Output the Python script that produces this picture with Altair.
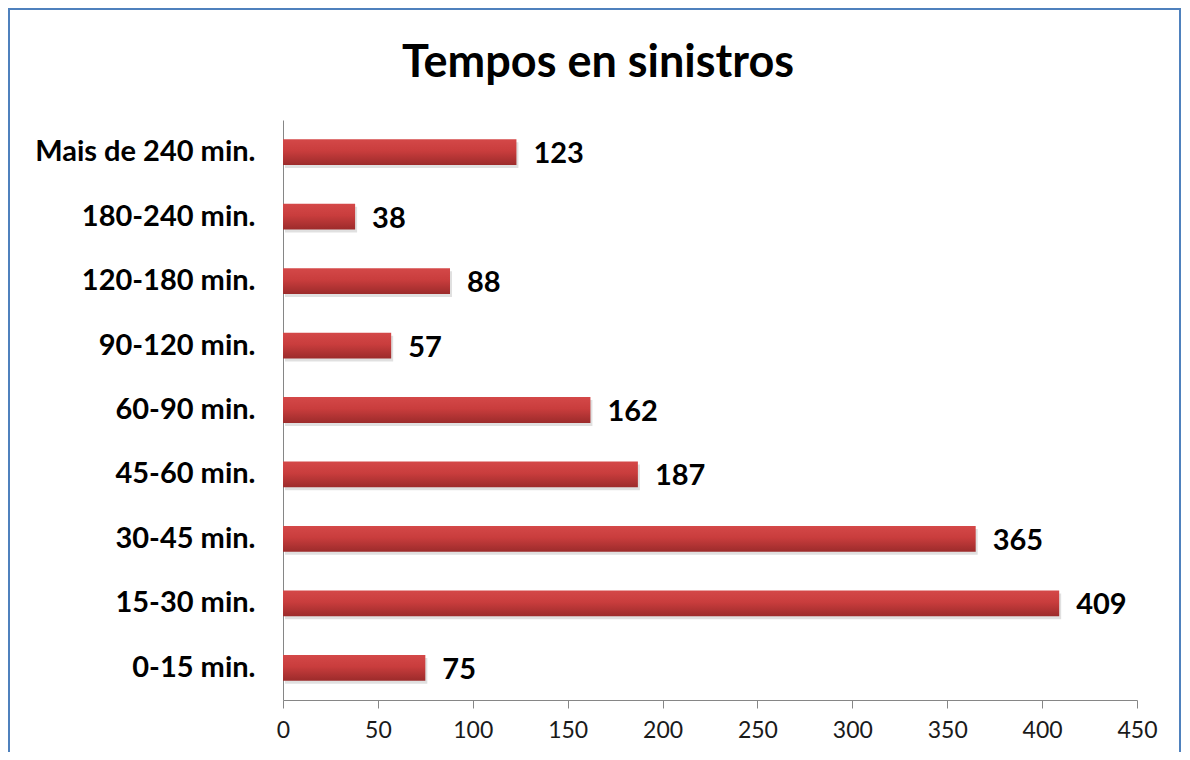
import altair as alt
import pandas as pd

categories = ["Mais de 240 min.", "180-240 min.", "120-180 min.", "90-120 min.",
              "60-90 min.", "45-60 min.", "30-45 min.", "15-30 min.", "0-15 min."]
values = [123, 38, 88, 57, 162, 187, 365, 409, 75]
x_ticks = [0, 50, 100, 150, 200, 250, 300, 350, 400, 450]
title_text = "Tempos en sinistros"

df = pd.DataFrame({"cat": categories, "val": values})
FONT = "Lato"

grad = alt.Gradient(
    gradient="linear", x1=0, x2=0, y1=0, y2=1,
    stops=[alt.GradientStop(offset=0, color="#d44848"),
           alt.GradientStop(offset=0.45, color="#c93d3d"),
           alt.GradientStop(offset=1, color="#9c2b2b")],
)

y_enc = alt.Y("cat:N", sort=categories, title=None,
              scale=alt.Scale(paddingInner=0.6, paddingOuter=0.3),
              axis=alt.Axis(ticks=False, labelPadding=28, labelFont=FONT,
                            labelFontSize=29, labelFontWeight="bold", labelLimit=400,
                            labelColor="#000000", domainColor="#868686",
                            domainWidth=1, grid=False))
x_enc = alt.X("val:Q", title=None,
              scale=alt.Scale(domain=[0, 450], nice=False),
              axis=alt.Axis(values=x_ticks, tickSize=8, tickColor="#868686",
                            domainColor="#868686", labelFont=FONT,
                            labelFontSize=23, labelColor="#1a1a1a",
                            labelPadding=11, grid=False, labelFlush=False))

shadow = alt.Chart(df).mark_bar(color="#000000", opacity=0.12, yOffset=3, xOffset=2).encode(
    y=y_enc, x=x_enc)
bars = alt.Chart(df).mark_bar(fill=grad).encode(y=y_enc, x=x_enc)
labels = alt.Chart(df).mark_text(align="left", baseline="middle", dx=17, dy=2,
                                 font=FONT, fontSize=29, fontWeight="bold",
                                 color="#000000").encode(
    y=alt.Y("cat:N", sort=categories), x="val:Q", text="val:Q")

one = pd.DataFrame({"t": [title_text]})
frame = alt.Chart(one).mark_rect(
    fill=None, stroke="#4f81bd", strokeWidth=2).encode(
    x=alt.value(-274), x2=alt.value(897), y=alt.value(-111), y2=alt.value(700))
title = alt.Chart(one).mark_text(
    font=FONT, fontSize=45, fontWeight="bold", color="#000000",
    align="center", baseline="alphabetic").encode(
    x=alt.value(315), y=alt.value(-43), text="t:N")

chart = alt.layer(frame, shadow, bars, labels, title).properties(
    width=854, height=580,
    autosize=alt.AutoSizeParams(type="none"),
    padding={"left": 275, "top": 112, "right": 45, "bottom": 52},
).configure_view(stroke=None)

chart.save("out.html", embed_options={"renderer": "svg", "actions": False})
